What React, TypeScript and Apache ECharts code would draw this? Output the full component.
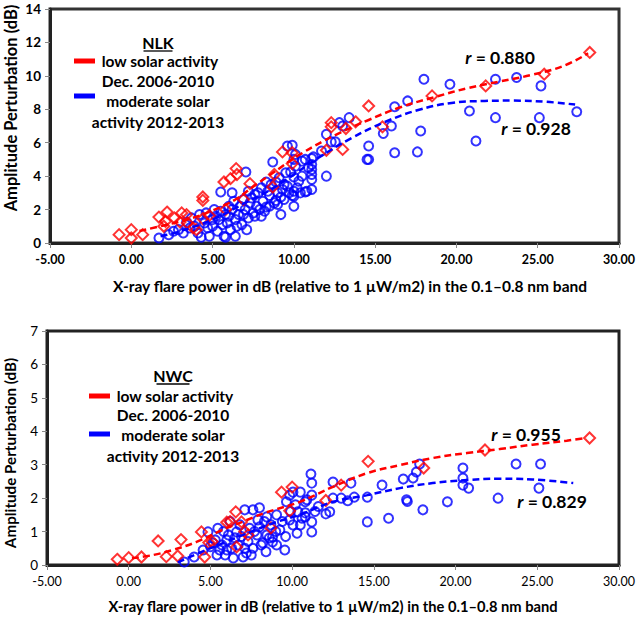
import React, { useEffect, useRef } from "react";
import * as echarts from "echarts";

// ---------- NLK (top panel) ----------
const nlkLow: number[][] = [
  [-0.75, 0.5], [0, 0.8], [0, 0.3], [0.7, 0.5], [1.7, 1.55], [2.2, 1.85], [2.0, 1.0], [2.1, 1.3],
  [2.65, 1.5], [3.1, 1.8], [3.4, 1.7], [3.0, 1.25], [3.45, 1.2], [4.0, 0.8], [3.8, 0.9], [4.4, 2.75],
  [4.4, 2.55], [4.4, 1.45], [4.8, 1.65], [5.8, 2.0], [5.7, 3.65], [6.1, 3.85], [6.45, 4.45], [6.5, 4.1],
  [6.9, 2.6], [7.3, 3.55], [8.7, 3.35], [8.8, 4.1], [9.3, 5.45], [9.9, 5.4], [9.9, 4.75], [12.0, 5.55],
  [12.3, 7.2], [12.3, 6.95], [13.0, 5.6], [13.2, 6.85], [13.8, 7.25], [14.6, 8.2], [15.45, 6.95],
  [18.5, 8.8], [21.8, 9.4], [25.4, 10.1], [28.2, 11.4],
];
const nlkModerate: number[][] = [
  [1.7, 0.3], [2.3, 0.5], [2.6, 0.7], [2.9, 0.8], [3.2, 0.6], [3.4, 1.25], [3.6, 0.9], [3.7, 1.5],
  [3.9, 1.0], [4.1, 0.6], [4.2, 1.7], [4.3, 0.35], [4.5, 1.2], [4.6, 1.8], [4.7, 0.9], [4.8, 0.4],
  [5.0, 1.0], [5.0, 1.4], [5.1, 2.0], [5.2, 1.6], [5.3, 0.7], [5.4, 1.4], [5.5, 3.05], [5.5, 1.9],
  [5.6, 1.1], [5.7, 0.4], [5.8, 1.7], [5.8, 0.35], [5.9, 1.2], [6.0, 2.2], [6.0, 1.6], [6.1, 0.8],
  [6.2, 2.0], [6.2, 3.0], [6.3, 2.5], [6.4, 1.4], [6.4, 0.4], [6.5, 1.0], [6.6, 1.7], [6.7, 2.2],
  [6.8, 1.1], [6.9, 2.6], [6.9, 1.7], [7.0, 2.0], [7.05, 4.25], [7.1, 0.8], [7.2, 1.5], [7.2, 3.1],
  [7.3, 2.4], [7.4, 2.7], [7.5, 1.8], [7.6, 1.6], [7.6, 2.9], [7.7, 2.2], [7.8, 3.0], [7.9, 2.0],
  [8.0, 3.3], [8.0, 1.6], [8.1, 2.5], [8.2, 1.9], [8.3, 3.65], [8.3, 2.15], [8.4, 3.1], [8.5, 2.85],
  [8.5, 2.2], [8.6, 3.5], [8.7, 4.85], [8.8, 2.4], [8.9, 3.65], [8.9, 2.55], [9.0, 3.0], [9.0, 2.3],
  [9.1, 3.9], [9.2, 1.7], [9.2, 2.75], [9.3, 3.2], [9.4, 3.5], [9.4, 2.6], [9.5, 4.2], [9.6, 5.8],
  [9.6, 3.4], [9.7, 3.0], [9.8, 4.25], [9.9, 5.85], [9.9, 2.85], [10.0, 3.95], [10.0, 3.1],
  [10.0, 2.8], [10.0, 2.2], [10.0, 5.0], [10.1, 4.6], [10.1, 5.3], [10.2, 3.3], [10.3, 3.7],
  [10.4, 3.0], [10.5, 4.0], [10.5, 4.9], [10.7, 5.0], [10.7, 3.05], [10.8, 3.1], [10.9, 4.5],
  [11.1, 5.05], [11.1, 4.7], [11.1, 4.4], [11.1, 4.1], [11.1, 3.8], [11.1, 3.2], [11.2, 5.15],
  [11.7, 5.5], [12.0, 6.5], [12.0, 4.0], [12.3, 6.05], [12.55, 6.05], [12.8, 7.2], [13.0, 7.0],
  [13.4, 7.5], [14.5, 5.0], [14.6, 5.0], [14.6, 5.8], [15.5, 6.55], [16.0, 7.0], [16.2, 8.15],
  [16.2, 5.4], [17.0, 8.5], [17.6, 5.45], [17.8, 6.7], [18.0, 9.8], [19.6, 9.5], [20.8, 7.9],
  [21.2, 6.1], [22.4, 9.8], [22.4, 7.5], [23.7, 9.9], [25.1, 7.5], [25.2, 9.4], [27.4, 7.85],
];
const nlkLowTrend: number[][] = [
  [0.5, 0.72], [2.0, 1.05], [3.6, 1.45], [5.0, 1.95], [6.4, 2.6], [7.4, 3.3], [8.5, 4.05],
  [10.5, 5.37], [12.55, 6.46], [14.6, 7.36], [16.6, 8.14], [18.7, 8.74], [20.7, 9.27],
  [22.6, 9.65], [24.6, 10.05], [26.6, 10.6], [28.1, 11.35],
];
const nlkModTrend: number[][] = [
  [1.8, 0.4], [3.0, 0.7], [5.0, 1.4], [7.0, 2.4], [8.5, 3.15], [9.7, 3.9], [11.5, 5.09],
  [13.55, 6.28], [15.6, 7.24], [17.65, 7.96], [19.7, 8.38], [21.75, 8.5], [23.5, 8.52],
  [25.5, 8.45], [27.3, 8.28],
];

// ---------- NWC (bottom panel) ----------
const nwcLow: number[][] = [
  [-0.7, 0.17], [0, 0.22], [0.78, 0.24], [1.8, 0.72], [2.3, 0.25], [3.0, 0.27], [3.2, 0.76],
  [4.45, 0.99], [4.65, 0.24], [4.9, 0.67], [5.1, 0.7], [6.0, 1.28], [6.2, 1.3], [6.55, 1.59],
  [6.6, 0.54], [6.9, 1.29], [7.1, 1.0], [7.3, 0.9], [8.7, 1.11], [9.35, 2.18], [10.0, 2.33],
  [9.85, 1.62], [12.06, 1.93], [13.0, 2.39], [14.65, 3.1], [18.05, 2.9], [21.8, 3.44], [28.2, 3.8],
];
const nwcModerate: number[][] = [
  [3.4, 0.09], [4.0, 0.24], [4.55, 0.45], [4.85, 0.99], [5.0, 0.55], [5.15, 0.66], [5.3, 0.75],
  [5.4, 0.3], [5.45, 1.1], [5.57, 0.45], [5.7, 0.6], [5.8, 1.0], [5.9, 0.3], [6.0, 0.75], [6.0, 0.45],
  [6.1, 0.9], [6.2, 1.3], [6.3, 0.5], [6.4, 0.21], [6.5, 0.81], [6.6, 0.99], [6.7, 0.6], [6.8, 1.2],
  [6.9, 0.85], [7.0, 0.24], [7.1, 1.65], [7.1, 0.5], [7.2, 0.36], [7.3, 0.7], [7.4, 1.1], [7.5, 0.3],
  [7.6, 1.65], [7.6, 0.5], [7.7, 1.0], [7.85, 0.9], [7.9, 1.35], [8.0, 1.71], [8.0, 1.14], [8.1, 0.6],
  [8.2, 0.66], [8.3, 1.3], [8.4, 0.4], [8.45, 0.9], [8.45, 1.44], [8.6, 0.81], [8.7, 1.2], [8.8, 0.69],
  [8.8, 0.84], [9.0, 1.0], [9.05, 1.5], [9.05, 0.6], [9.25, 1.05], [9.4, 1.3], [9.55, 0.45],
  [9.6, 0.85], [9.65, 1.89], [9.85, 2.09], [9.85, 1.35], [9.9, 1.6], [10.05, 2.18], [10.05, 1.2],
  [10.2, 1.8], [10.3, 0.95], [10.35, 1.59], [10.5, 2.18], [10.5, 1.2], [10.6, 1.4], [10.8, 1.44],
  [10.8, 1.89], [10.8, 1.56], [10.9, 1.95], [11.15, 2.72], [11.2, 2.45], [11.2, 2.09], [11.2, 1.29],
  [11.2, 0.99], [11.4, 1.6], [11.6, 1.75], [12.06, 1.53], [12.3, 1.59], [12.5, 2.48], [12.5, 2.0],
  [13.0, 2.0], [13.4, 1.92], [13.6, 2.45], [13.8, 2.03], [14.6, 2.03], [14.6, 1.29], [15.5, 2.39],
  [15.9, 1.4], [16.8, 2.57], [17.0, 1.95], [17.05, 1.9], [17.4, 2.6], [17.6, 2.78], [17.8, 3.02],
  [18.0, 1.65], [19.5, 1.89], [20.45, 2.9], [20.45, 2.6], [20.45, 2.39], [20.8, 2.3], [22.6, 2.0],
  [23.7, 3.02], [25.1, 2.3], [25.2, 3.02],
];
const nwcLowTrend: number[][] = [
  [0.2, 0.2], [1.5, 0.3], [2.7, 0.45], [4.15, 0.69], [5.6, 1.02], [7.0, 1.3], [8.4, 1.57],
  [10.47, 1.89], [12.5, 2.34], [14.6, 2.75], [16.6, 2.99], [18.6, 3.2], [20.7, 3.35],
  [22.7, 3.47], [24.7, 3.6], [26.8, 3.72], [28.0, 3.8],
];
const nwcModTrend: number[][] = [
  [3.0, 0.08], [4.5, 0.4], [6.0, 0.7], [7.5, 1.0], [9.0, 1.28], [10.47, 1.5], [12.5, 1.89],
  [14.6, 2.09], [16.6, 2.3], [18.6, 2.45], [20.7, 2.54], [22.7, 2.58], [24.7, 2.56], [27.2, 2.45],
];

const xTitle = "X-ray flare power in dB (relative to 1 \u00b5W/m2) in the 0.1\u20130.8 nm band";
const yTitle = "Amplitude Perturbation (dB)";
const RED = "#ff0000";
const BLUE = "#0000ff";
const FONT = "Lato";

function xAxisCfg(gridIndex: number, bold: boolean) {
  return {
    gridIndex, type: "value", min: -5, max: 30, interval: 5,
    axisLine: { show: true, onZero: false, lineStyle: { color: "#222", width: 3 } },
    axisTick: { show: true, length: 5, lineStyle: { color: "#888", width: 1 } },
    axisLabel: {
      formatter: (v: number) => v.toFixed(2), margin: 10, fontSize: 12.5,
      fontWeight: bold ? "bold" : "normal", color: "#000", fontFamily: FONT,
    },
    splitLine: { show: false },
  };
}
function yAxisCfg(gridIndex: number, max: number, interval: number, bold: boolean) {
  return {
    gridIndex, type: "value", min: 0, max, interval,
    axisLine: { show: true, onZero: false, lineStyle: { color: "#222", width: 3 } },
    axisTick: { show: true, length: 5, lineStyle: { color: "#888", width: 1 } },
    axisLabel: { margin: 9, fontSize: 13.5, fontWeight: bold ? "bold" : "normal", color: "#000", fontFamily: FONT },
    splitLine: { show: false },
  };
}
function scatter(idx: number, data: number[][], symbol: string, color: string, size: number) {
  return {
    type: "scatter", xAxisIndex: idx, yAxisIndex: idx, data, symbol, symbolSize: size,
    itemStyle: { color: "rgba(0,0,0,0)", borderColor: color, borderWidth: 2 },
    silent: true,
  };
}
function trend(idx: number, data: number[][], color: string) {
  return {
    type: "line", xAxisIndex: idx, yAxisIndex: idx, data, smooth: 0.4, showSymbol: false,
    lineStyle: { color, width: 2.5, type: [7, 4] }, silent: true, z: 5,
  };
}
function txt(text: string, x: number, y: number, size: number, extra: any = {}) {
  return {
    type: "text", x, y, z: 100,
    style: {
      text, fill: "#000", fontSize: size, fontWeight: "bold", fontFamily: FONT,
      align: "center", verticalAlign: "middle", ...extra,
    },
  };
}
function legend(cx: number, titleY: number, station: string, sampleX: number, rows: number[]) {
  const w = station === "NLK" ? 29 : 33;
  return [
    txt(station, cx, titleY, 16),
    { type: "line", z: 100, shape: { x1: cx - w / 2, y1: titleY + 9, x2: cx + w / 2, y2: titleY + 9 }, style: { stroke: "#000", lineWidth: 1.3 } },
    { type: "rect", z: 100, shape: { x: sampleX, y: rows[0] - 2.5, width: 21, height: 5 }, style: { fill: RED } },
    txt("low solar activity", cx + 2, rows[0], 15.5),
    txt("Dec. 2006-2010", cx, rows[1], 15.5),
    { type: "rect", z: 100, shape: { x: sampleX, y: rows[2] - 2.5, width: 21, height: 5 }, style: { fill: BLUE } },
    txt("moderate solar", cx, rows[3], 15.5),
    txt("activity 2012-2013", cx, rows[4], 15.5),
  ];
}
function rLabel(value: string, x: number, y: number) {
  return txt("{i|r} = " + value, x, y, 17.5, {
    rich: { i: { fontStyle: "italic", fontWeight: "bold", fontSize: 17.5, fontFamily: FONT, fill: "#000" } },
  });
}

export default function App() {
  const ref = useRef<HTMLDivElement>(null);
  useEffect(() => {
    document.body.style.margin = "0";
    const chart = echarts.init(ref.current!, null, { renderer: "svg" });
    chart.setOption({
      animation: false,
      backgroundColor: "#fff",
      textStyle: { fontFamily: FONT },
      grid: [
        { left: 50, top: 9, width: 572, height: 234, show: true, borderColor: "#333", borderWidth: 3 },
        { left: 47, top: 331, width: 572, height: 234, show: true, borderColor: "#222", borderWidth: 3 },
      ],
      xAxis: [xAxisCfg(0, true), xAxisCfg(1, false)],
      yAxis: [yAxisCfg(0, 14, 2, true), yAxisCfg(1, 7, 1, false)],
      series: [
        scatter(0, nlkModerate, "circle", BLUE, 9),
        scatter(0, nlkLow, "diamond", RED, 11),
        trend(0, nlkModTrend, BLUE),
        trend(0, nlkLowTrend, RED),
        scatter(1, nwcModerate, "circle", BLUE, 9),
        scatter(1, nwcLow, "diamond", RED, 11),
        trend(1, nwcModTrend, BLUE),
        trend(1, nwcLowTrend, RED),
      ],
      graphic: [
        txt(xTitle, 350, 286, 15.5),
        txt(xTitle, 333, 606, 14.7),
        { ...txt(yTitle, 11, 108, 16.5), rotation: Math.PI / 2 },
        { ...txt(yTitle, 10, 453, 15.2), rotation: Math.PI / 2 },
        ...legend(158, 42, "NLK", 74, [61, 81, 96, 101, 122]),
        ...legend(173, 375, "NWC", 89, [396, 415, 434, 435, 456]),
        rLabel("0.880", 500, 57),
        rLabel("0.928", 536, 128),
        rLabel("0.955", 526, 434),
        rLabel("0.829", 552, 501),
      ],
    });
    return () => chart.dispose();
  }, []);
  return <div ref={ref} style={{ width: 638, height: 619 }} />;
}
